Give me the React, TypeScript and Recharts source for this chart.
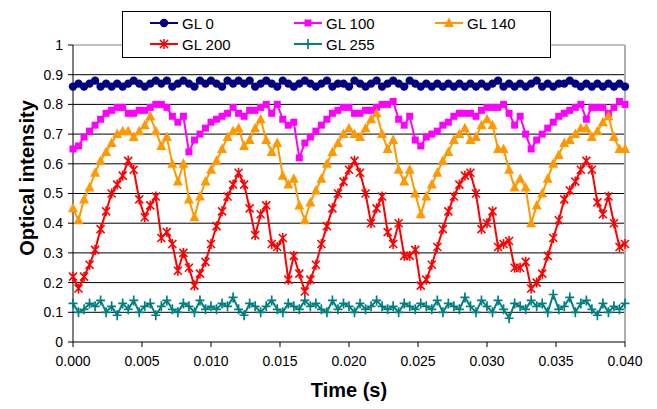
import React from "react";
import { LineChart, Line, XAxis, YAxis, CartesianGrid, ReferenceLine } from "recharts";

// sample spacing of the recorded traces (s)
const SAMPLE_STEP = 0.0004;

const gl0 = [
  0.86, 0.87, 0.86, 0.87, 0.88, 0.86, 0.87, 0.86, 0.87, 0.86,
  0.87, 0.88, 0.87, 0.86, 0.87, 0.88, 0.87, 0.88, 0.86, 0.87,
  0.88, 0.87, 0.86, 0.88, 0.87, 0.88, 0.87, 0.86, 0.88, 0.87,
  0.88, 0.87, 0.88, 0.86, 0.87, 0.88, 0.87, 0.86, 0.88, 0.87,
  0.86, 0.87, 0.88, 0.87, 0.86, 0.87, 0.88, 0.86, 0.87, 0.87,
  0.86, 0.88, 0.87, 0.86, 0.87, 0.88, 0.86, 0.87, 0.88, 0.87,
  0.86, 0.88, 0.87, 0.86, 0.87, 0.86, 0.87, 0.86, 0.87, 0.86,
  0.87, 0.86, 0.87, 0.86, 0.87, 0.86, 0.87, 0.88, 0.86, 0.87,
  0.86, 0.87, 0.86, 0.87, 0.88, 0.86, 0.87, 0.86, 0.87, 0.87,
  0.88, 0.87, 0.86, 0.87, 0.86, 0.87, 0.86, 0.87, 0.86, 0.87,
  0.86,
];

const gl100 = [
  0.65, 0.66, 0.69, 0.71, 0.73, 0.75, 0.77, 0.78, 0.79, 0.79,
  0.77, 0.77, 0.78, 0.78, 0.79, 0.8, 0.8, 0.79, 0.76, 0.74,
  0.76, 0.64, 0.68, 0.7, 0.72, 0.74, 0.75, 0.76, 0.77, 0.79,
  0.77, 0.76, 0.78, 0.78, 0.79, 0.8, 0.77, 0.8, 0.75, 0.73,
  0.74, 0.62, 0.67, 0.69, 0.71, 0.73, 0.75, 0.77, 0.78, 0.79,
  0.79, 0.77, 0.77, 0.78, 0.78, 0.79, 0.8, 0.8, 0.81, 0.75,
  0.73, 0.76, 0.68, 0.66, 0.69, 0.7, 0.71, 0.73, 0.74, 0.76,
  0.77, 0.77, 0.77, 0.76, 0.78, 0.79, 0.79, 0.79, 0.8, 0.77,
  0.73, 0.76, 0.7, 0.65, 0.68, 0.7, 0.72, 0.74, 0.76, 0.77,
  0.78, 0.79, 0.8, 0.75, 0.79, 0.79, 0.79, 0.77, 0.79, 0.81,
  0.8,
];

const gl140 = [
  0.45, 0.41, 0.48, 0.52, 0.57, 0.61, 0.64, 0.67, 0.7, 0.71,
  0.71, 0.69, 0.71, 0.73, 0.76, 0.71, 0.66, 0.69, 0.6, 0.54,
  0.6, 0.48, 0.42, 0.49, 0.54, 0.58, 0.61, 0.65, 0.69, 0.71,
  0.72, 0.66, 0.68, 0.72, 0.75, 0.68, 0.64, 0.67, 0.56, 0.53,
  0.55, 0.46, 0.41, 0.47, 0.51, 0.55, 0.6, 0.64, 0.67, 0.7,
  0.72, 0.7, 0.69, 0.72, 0.75, 0.77, 0.7, 0.65, 0.68, 0.58,
  0.54, 0.58, 0.5, 0.43, 0.49, 0.53, 0.57, 0.61, 0.64, 0.68,
  0.7, 0.72, 0.68, 0.69, 0.73, 0.75, 0.73, 0.65, 0.65, 0.58,
  0.52, 0.55, 0.52, 0.4, 0.46, 0.5, 0.55, 0.6, 0.63, 0.67,
  0.68, 0.7, 0.72, 0.72, 0.69, 0.71, 0.74, 0.76, 0.69, 0.65,
  0.65,
];

const gl200 = [
  0.22, 0.18, 0.22, 0.26, 0.31, 0.38, 0.44, 0.5, 0.53, 0.56,
  0.61, 0.58, 0.48, 0.42, 0.46, 0.49, 0.35, 0.37, 0.33, 0.24,
  0.3, 0.25, 0.19, 0.23, 0.27, 0.33, 0.39, 0.44, 0.49, 0.53,
  0.57, 0.53, 0.45, 0.36, 0.43, 0.46, 0.33, 0.32, 0.35, 0.21,
  0.29, 0.23, 0.17, 0.21, 0.26, 0.33, 0.39, 0.45, 0.5, 0.54,
  0.58, 0.61, 0.57, 0.5, 0.4, 0.45, 0.49, 0.37, 0.33, 0.4,
  0.29, 0.29, 0.31, 0.19, 0.21, 0.26, 0.32, 0.38, 0.44, 0.49,
  0.53, 0.56, 0.57, 0.5, 0.38, 0.4, 0.44, 0.32, 0.33, 0.34,
  0.25, 0.25, 0.27, 0.18, 0.2, 0.23, 0.29, 0.35, 0.41, 0.48,
  0.51, 0.54, 0.58, 0.61, 0.58, 0.47, 0.43, 0.49, 0.4, 0.32,
  0.33,
];

const gl255 = [
  0.13, 0.1, 0.11, 0.13, 0.12, 0.14, 0.1, 0.12, 0.09, 0.13,
  0.11, 0.14, 0.1, 0.12, 0.13, 0.09, 0.12, 0.14, 0.11, 0.1,
  0.13, 0.12, 0.1, 0.14, 0.11, 0.12, 0.11, 0.13, 0.12, 0.15,
  0.11, 0.09, 0.13, 0.12, 0.1, 0.12, 0.14, 0.11, 0.1, 0.13,
  0.12, 0.11, 0.14, 0.12, 0.13, 0.11, 0.1, 0.14, 0.11, 0.13,
  0.12, 0.1, 0.13, 0.11, 0.12, 0.14, 0.12, 0.11, 0.12, 0.1,
  0.13, 0.12, 0.11, 0.13, 0.12, 0.11, 0.14, 0.1, 0.13, 0.12,
  0.11, 0.15, 0.12, 0.1, 0.14, 0.12, 0.1, 0.14, 0.11, 0.08,
  0.13, 0.12, 0.11, 0.14, 0.12, 0.13, 0.1, 0.16, 0.11, 0.12,
  0.15, 0.1, 0.13, 0.14, 0.11, 0.09, 0.13, 0.1, 0.12, 0.11,
  0.13,
];

const xTicks = [0, 0.005, 0.01, 0.015, 0.02, 0.025, 0.03, 0.035, 0.04];
const yTicks = [0, 0.1, 0.2, 0.3, 0.4, 0.5, 0.6, 0.7, 0.8, 0.9, 1];
const gridLines = [0.1, 0.2, 0.3, 0.4, 0.5, 0.6, 0.7, 0.8, 0.9];

const data = gl0.map((v, i) => ({
  t: i * SAMPLE_STEP,
  gl0: v,
  gl100: gl100[i],
  gl140: gl140[i],
  gl200: gl200[i],
  gl255: gl255[i],
}));

const FONT = "'Liberation Sans', Arial, sans-serif";

type Shape = "circle" | "square" | "triangle" | "star" | "plus";

function Marker({ shape, cx, cy, color }: { shape: Shape; cx: number; cy: number; color: string }) {
  if (shape === "circle") return <circle cx={cx} cy={cy} r={4.2} fill={color} />;
  if (shape === "square") return <rect x={cx - 3.5} y={cy - 3.5} width={7} height={7} fill={color} />;
  if (shape === "triangle")
    return <polygon points={`${cx},${cy - 5.5} ${cx + 5},${cy + 4} ${cx - 5},${cy + 4}`} fill={color} />;
  if (shape === "star")
    return (
      <path
        d={`M${cx - 4},${cy - 4}L${cx + 4},${cy + 4}M${cx - 4},${cy + 4}L${cx + 4},${cy - 4}M${cx},${cy - 5}L${cx},${cy + 5}`}
        stroke={color}
        strokeWidth={1.6}
        fill="none"
      />
    );
  return (
    <path
      d={`M${cx - 4.5},${cy}L${cx + 4.5},${cy}M${cx},${cy - 5}L${cx},${cy + 5}`}
      stroke={color}
      strokeWidth={1.7}
      fill="none"
    />
  );
}

const series: { key: string; name: string; color: string; shape: Shape }[] = [
  { key: "gl0", name: "GL 0", color: "#000080", shape: "circle" },
  { key: "gl100", name: "GL 100", color: "#FF00FF", shape: "square" },
  { key: "gl140", name: "GL 140", color: "#FF9900", shape: "triangle" },
  { key: "gl200", name: "GL 200", color: "#FF0000", shape: "star" },
  { key: "gl255", name: "GL 255", color: "#008080", shape: "plus" },
];

// legend slots (left of swatch, row) in page pixels
const legendSlots = [
  { x: 150, y: 23 },
  { x: 294, y: 23 },
  { x: 435, y: 23 },
  { x: 150, y: 44 },
  { x: 294, y: 44 },
];

function LegendBox() {
  return (
    <div
      style={{
        position: "absolute",
        left: 122,
        top: 11,
        width: 427,
        height: 45,
        border: "1px solid #000",
        background: "#fff",
      }}
    >
      {series.map((s, i) => (
        <div
          key={s.key}
          style={{
            position: "absolute",
            left: legendSlots[i].x - 123,
            top: legendSlots[i].y - 12 - 10,
            height: 20,
            display: "flex",
            alignItems: "center",
            fontFamily: FONT,
            fontSize: 15,
            color: "#000",
            whiteSpace: "nowrap",
          }}
        >
          <svg width={28} height={12} style={{ marginRight: 4 }}>
            <line x1={0} y1={6} x2={28} y2={6} stroke={s.color} strokeWidth={2} />
            <Marker shape={s.shape} cx={14} cy={6} color={s.color} />
          </svg>
          {s.name}
        </div>
      ))}
    </div>
  );
}

export default function App() {
  return (
    <div style={{ position: "absolute", left: 0, top: 0, width: 657, height: 409, background: "#fff" }}>
      <LineChart width={657} height={409} data={data} margin={{ top: 45, right: 32, bottom: 27, left: 0 }}>
        <CartesianGrid horizontal vertical={false} horizontalValues={gridLines} stroke="#000" strokeWidth={1} />
        <ReferenceLine y={1} stroke="#808080" strokeWidth={1} />
        <ReferenceLine x={0.04} stroke="#b0b0b0" strokeWidth={2} />
        <XAxis
          type="number"
          dataKey="t"
          domain={[0, 0.04]}
          ticks={xTicks}
          tickFormatter={(v: number) => v.toFixed(3)}
          stroke="#000"
          tickSize={5}
          tickMargin={9}
          height={40}
          tick={{ fill: "#000", fontSize: 14, fontFamily: FONT }}
          label={{
            content: () => (
              <text x={349} y={397} textAnchor="middle" fontFamily={FONT} fontSize={20} fontWeight="bold" fill="#000">
                Time (s)
              </text>
            ),
          }}
        />
        <YAxis
          type="number"
          domain={[0, 1]}
          ticks={yTicks}
          tickFormatter={(v: number) => String(v)}
          stroke="#000"
          tickSize={5}
          tickMargin={5}
          width={73}
          tick={{ fill: "#000", fontSize: 14, fontFamily: FONT }}
          label={{
            content: () => (
              <text
                x={34}
                y={178}
                transform="rotate(-90 34 178)"
                textAnchor="middle"
                fontFamily={FONT}
                fontSize={20}
                fontWeight="bold"
                fill="#000"
              >
                Optical intensity
              </text>
            ),
          }}
        />
        {series.map((s) => (
          <Line
            key={s.key}
            type="linear"
            dataKey={s.key}
            name={s.name}
            stroke={s.color}
            strokeWidth={2}
            isAnimationActive={false}
            activeDot={false}
            dot={(p: any) => <Marker key={`${s.key}-${p.index}`} shape={s.shape} cx={p.cx} cy={p.cy} color={s.color} />}
          />
        ))}
      </LineChart>
      <LegendBox />
    </div>
  );
}
